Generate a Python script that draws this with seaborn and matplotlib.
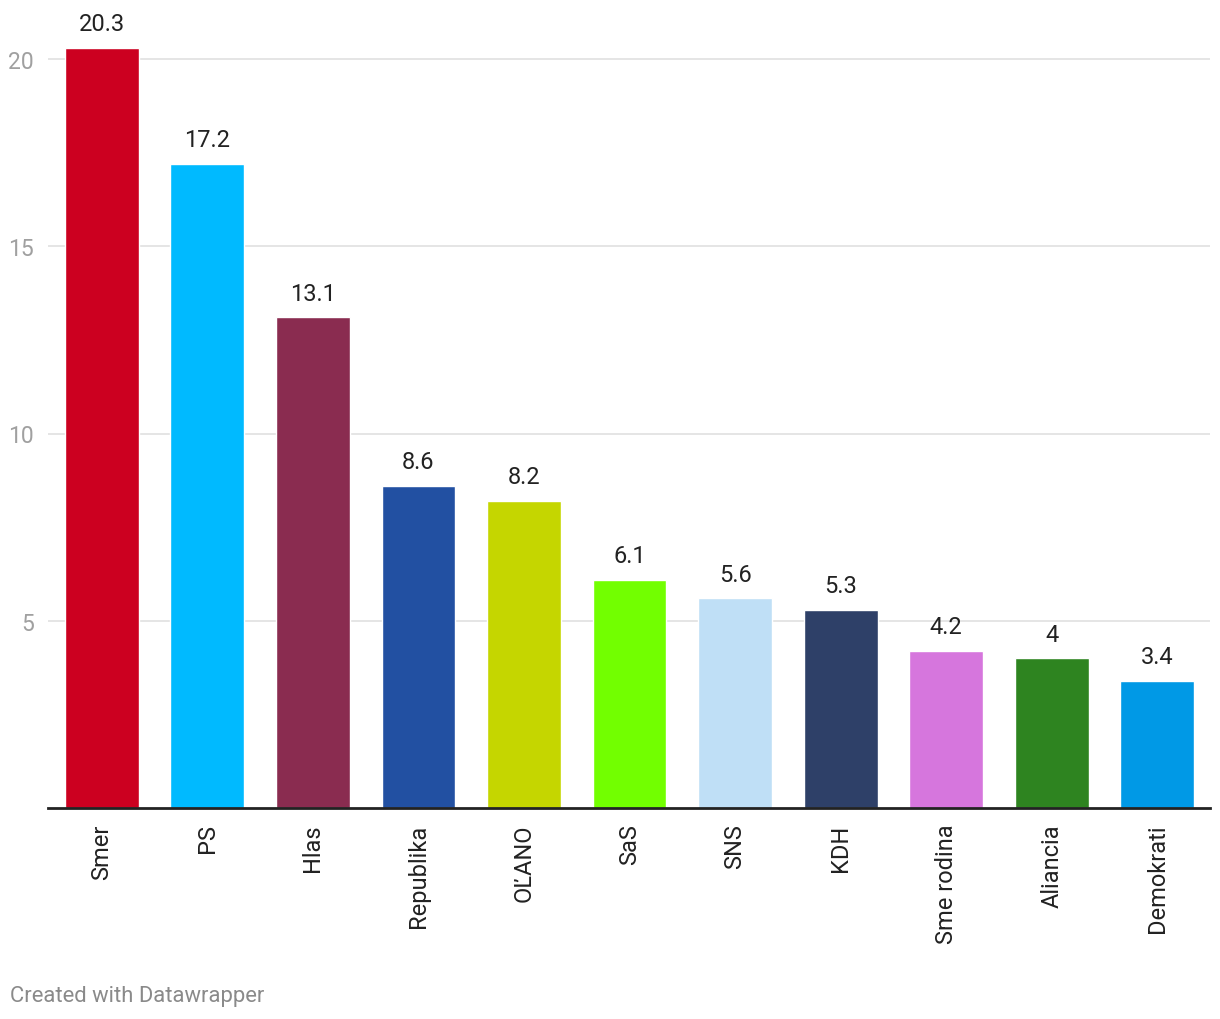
import matplotlib
matplotlib.use("Agg")
import matplotlib.pyplot as plt
import seaborn as sns
import pandas as pd

parties = ["Smer", "PS", "Hlas", "Republika", "OĽANO", "SaS", "SNS", "KDH",
           "Sme rodina", "Aliancia", "Demokrati"]
values = [20.3, 17.2, 13.1, 8.6, 8.2, 6.1, 5.6, 5.3, 4.2, 4.0, 3.4]
value_labels = ["20.3", "17.2", "13.1", "8.6", "8.2", "6.1", "5.6", "5.3", "4.2", "4", "3.4"]
colors = ["#CC0020", "#00BAFF", "#8A2C50", "#2250A2", "#C5D600", "#72FF00",
          "#BFDFF6", "#2E4068", "#D676DD", "#2E8420", "#0099E6"]
yticks = [5, 10, 15, 20]

sns.set_theme(style="white")
plt.rcParams["font.family"] = ["Roboto", "DejaVu Sans"]

df = pd.DataFrame({"party": parties, "value": values})

fig = plt.figure(figsize=(12.2, 10.2), dpi=100)
ax = fig.add_axes([48/1220, 1 - 809/1020, (1210 - 48)/1220, (809 - 41)/1020])

sns.barplot(data=df, x="party", y="value", hue="party", palette=colors,
            legend=False, width=0.70, ax=ax, saturation=1)

ax.set_xlim(-0.51, 10.5)
ax.set_ylim(0, 768/37.45)
ax.set_yticks(yticks)
ax.set_yticklabels([str(t) for t in yticks])
ax.yaxis.grid(True, color="#e3e3e3", linewidth=1.3)
ax.set_axisbelow(True)
for s in ["top", "right", "left"]:
    ax.spines[s].set_visible(False)
ax.spines["bottom"].set_color("#222222")
ax.spines["bottom"].set_linewidth(2)
ax.tick_params(axis="y", length=0, pad=10, labelsize=16.5, labelcolor="#a0a0a0")
ax.tick_params(axis="x", length=0, pad=11, labelsize=17, labelcolor="#222222",
               labelrotation=90)
for lbl in ax.get_xticklabels():
    lbl.set_va("top")
ax.set_xlabel("")
ax.set_ylabel("")

for i, (v, t) in enumerate(zip(values, value_labels)):
    ax.annotate(t, xy=(i, v), xytext=(0, 9), textcoords="offset points",
                ha="center", va="bottom", fontsize=17, color="#222222")

fig.text(10/1220, 1 - 997/1020, "Created with Datawrapper", fontsize=15.8,
         color="#8a8a8a", ha="left", va="center")

fig.savefig("out.png", dpi=100)
